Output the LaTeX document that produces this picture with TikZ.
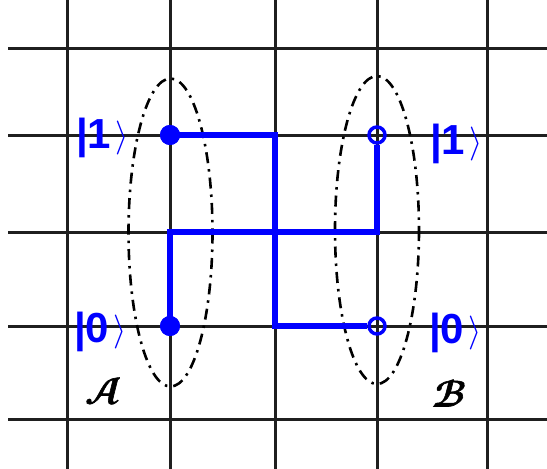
\documentclass[tikz,border=0pt]{standalone}
\usepackage{fontspec}
\usepackage{unicode-math}
\setmainfont{Liberation Sans}
\setmathfont{Latin Modern Math}
\newfontfamily\scrfont[FakeBold=1.6]{Latin Modern Math}
\newcommand{\myket}[1]{{\fontsize{42}{42}\selectfont\bfseries|#1}\kern4pt\raisebox{2pt}{\fontsize{34}{34}\selectfont$\rangle$}}
\begin{document}
\begin{tikzpicture}[x=1pt,y=-1pt,
  gridline/.style={line width=3pt,color=black!88},
  wire/.style={line width=6.5pt,color=blue},
  fdot/.style={circle,fill=blue,inner sep=0pt,minimum size=20pt},
  odot/.style={circle,draw=blue,line width=3.5pt,inner sep=0pt,minimum size=16pt},
  region/.style={line width=2.6pt,dash pattern=on 11pt off 6pt on 2.5pt off 6pt},
  ketlabel/.style={text=blue,inner sep=0pt,anchor=west},
  sysname/.style={inner sep=0pt}]
\useasboundingbox (0,0) rectangle (547,469);
% grid
\foreach \y in {48,135,232,326,419} \draw[gridline] (8,\y) -- (547,\y);
\foreach \x in {67,170,275,377,487} \draw[gridline] (\x,0) -- (\x,469);
% ellipses
\draw[region] (170.5,232.5) ellipse [x radius=42, y radius=154];
\draw[region] (377,230) ellipse [x radius=42, y radius=154];
% dots
\node[fdot] (L1) at (170,135) {};
\node[fdot] (L0) at (170,326) {};
\node[odot] (R1) at (377,135) {};
\node[odot] (R0) at (377,326) {};
\coordinate (M1) at (275,135);
\coordinate (M2) at (275,326);
\coordinate (N1) at (170,232);
\coordinate (N2) at (377,232);
% wires
\draw[wire,line join=miter] (L1.center) -- (M1) -- (M2) -- (R0);
\draw[wire,line join=miter] (L0.center) -- (N1) -- (N2) -- (R1);
\node[fdot] at (L1) {};
\node[fdot] at (L0) {};
% labels
\node[ketlabel] (k1L) at (76,138) {\myket{1}};
\node[ketlabel] (k0L) at (74,332) {\myket{0}};
\node[ketlabel] (k1R) at (430,144) {\myket{1}};
\node[ketlabel] (k0R) at (429,333) {\myket{0}};
\node[sysname] (A) at (103,391) {\fontsize{37}{37}\selectfont\scrfont 𝓐};
\node[sysname] (B) at (449,393) {\fontsize{37}{37}\selectfont\scrfont 𝓑};
\end{tikzpicture}
\end{document}
